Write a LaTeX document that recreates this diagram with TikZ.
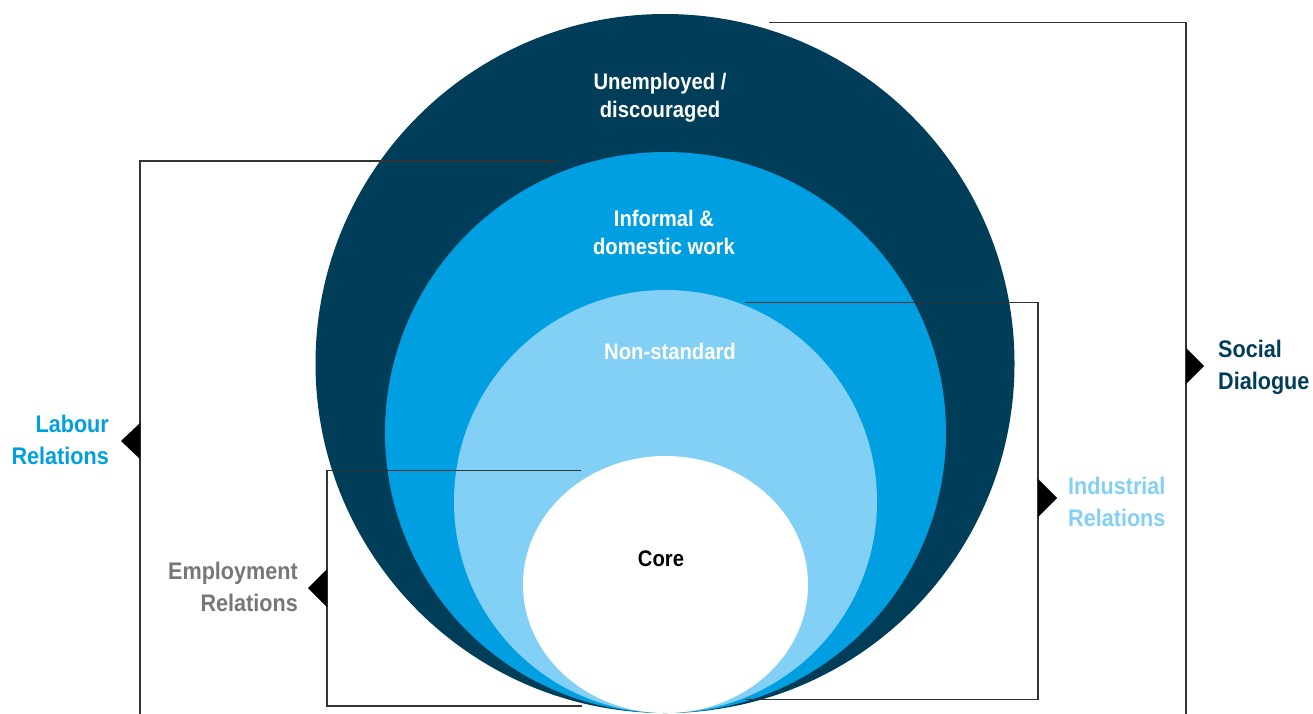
\documentclass[tikz,border=0pt]{standalone}
\usepackage{fontspec}
\setmainfont{Liberation Sans}[FakeStretch=0.9]
\definecolor{navy}{HTML}{003D58}
\definecolor{midblue}{HTML}{009FE1}
\definecolor{lightblue}{HTML}{82D0F5}
\definecolor{lblgray}{HTML}{777777}
\definecolor{linegray}{HTML}{333333}
\tikzset{
  inner/.style={font=\bfseries\fontsize{22.5}{28}\selectfont, align=center, inner sep=0pt},
  outer/.style={font=\bfseries\fontsize{24}{32}\selectfont, inner sep=0pt},
  bracket/.style={draw=linegray, line width=1.5pt},
  marker/.style={fill=black, draw=none}
}
\begin{document}
\begin{tikzpicture}[x=1pt,y=-1pt]
\useasboundingbox (0,0) rectangle (1313,713);
% circles
\fill[navy] (665,363.5) circle (349.5);
\fill[midblue] (665.5,432.5) circle (280.5);
\fill[lightblue] (665.5,501.5) circle (211.5);
\fill[white] (665.5,584.5) ellipse [x radius=142.5, y radius=128.5];
% inner labels
\node[inner, white] (unemp) at (660,98) {Unemployed /\\discouraged};
\node[inner, white] (informal) at (664,232) {Informal \&\\domestic work};
\node[inner, white] (nonstd) at (670,351) {Non-standard};
\node[inner, black] (core) at (661,559) {Core};
% bracket coordinates
\coordinate (sdA) at (769,22.5);
\coordinate (sdB) at (1186,22.5);
\coordinate (sdC) at (1186,714);
\coordinate (lrA) at (557,161);
\coordinate (lrB) at (140,161);
\coordinate (lrC) at (140,714);
\coordinate (irA) at (745,302.5);
\coordinate (irB) at (1038,302.5);
\coordinate (irC) at (1038,699.5);
\coordinate (irD) at (745,699.5);
\coordinate (erA) at (581,470.5);
\coordinate (erB) at (327,470.5);
\coordinate (erC) at (327,706);
\coordinate (erD) at (582,706);
\draw[bracket] (sdA) -- (sdB) -- (sdC);
\draw[bracket] (lrA) -- (lrB) -- (lrC);
\draw[bracket] (irA) -- (irB) -- (irC) -- (irD);
\draw[bracket] (erA) -- (erB) -- (erC) -- (erD);
% markers
\fill[marker] (1186,348) -- (1204,366) -- (1186,384) -- cycle;
\fill[marker] (140,423) -- (121,441) -- (140,459) -- cycle;
\fill[marker] (1038,479) -- (1057,498) -- (1038,517) -- cycle;
\fill[marker] (327,569) -- (308,588) -- (327,607) -- cycle;
% outer labels
\node[outer, navy, anchor=west, align=left] (sd) at (1218,367) {Social\\Dialogue};
\node[outer, midblue, anchor=east, align=right] (lr) at (109,440) {Labour\\Relations};
\node[outer, lightblue, anchor=west, align=left] (ir) at (1068,502) {Industrial\\Relations};
\node[outer, lblgray, anchor=east, align=right] (er) at (298,587) {Employment\\Relations};
\end{tikzpicture}
\end{document}
